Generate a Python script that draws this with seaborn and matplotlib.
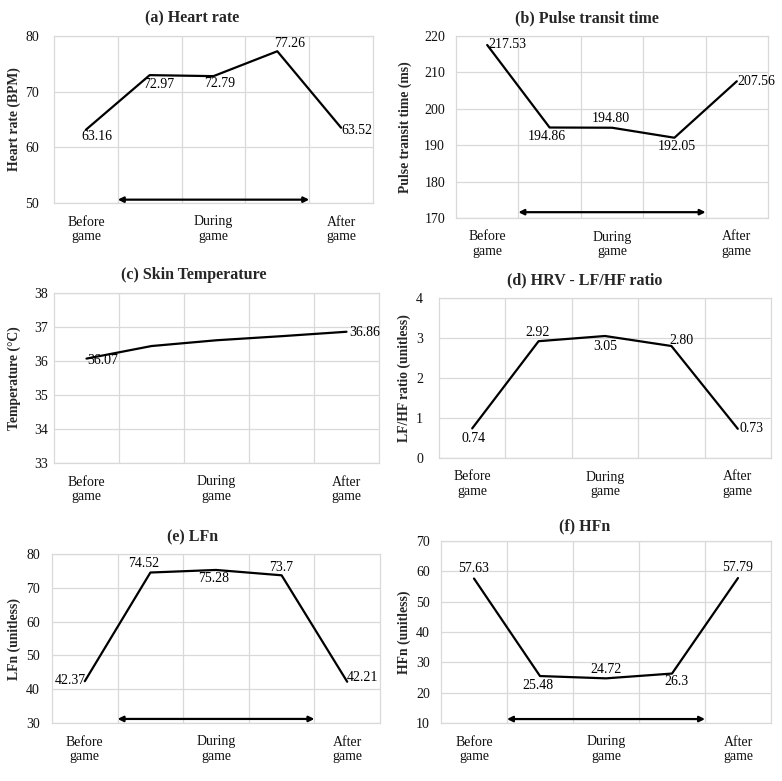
import numpy as np
import pandas as pd
import seaborn as sns
import matplotlib.pyplot as plt

# data
stages = ["Before\ngame", "During\ngame", "After\ngame"]
heart_rate = [63.16, 72.97, 72.79, 77.26, 63.52]
ptt = [217.53, 194.86, 194.80, 192.05, 207.56]
skin_temp = [36.07, 36.44, 36.61, 36.73, 36.86]
skin_temp_labels = ["36.07", None, None, None, "36.86"]
lf_hf = [0.74, 2.92, 3.05, 2.80, 0.73]
lfn = [42.37, 74.52, 75.28, 73.7, 42.21]
hfn = [57.63, 25.48, 24.72, 26.3, 57.79]

sns.set_theme(style="white")
plt.rcParams['font.family'] = ['Liberation Serif', 'DejaVu Serif']

fig = plt.figure(figsize=(7.82, 7.81), dpi=100)
W, H = 782, 781

def fmt(v):
    return f"{v:.2f}" if v not in (73.7, 26.3) else f"{v}"

panels = [
    # title, ylabel, values, labels, ylim, step, box(l,r,t,b), title pos, offsets(px), arrow, ytick pad px, ylabel x px
    ("(a) Heart rate", "Heart rate (BPM)", heart_rate, None, (50, 80), 10,
     (54, 373, 36, 203), (192, 18),
     [(11, -7), (9, -9), (6, -7), (12, 8), (16, -3)], 50.6, 15, 15),
    ("(b) Pulse transit time", "Pulse transit time (ms)", ptt, None, (170, 220), 10,
     (456, 768, 36, 218), (587, 18),
     [(20, 0), (-3, -9), (-1, 9), (2, -9), (20, 0)], 171.6, 11, 406),
    ("(c) Skin Temperature", "Temperature (°C)", skin_temp, skin_temp_labels, (33, 38), 1,
     (54, 379, 293, 463), (194, 275),
     [(16, -2), (0, 0), (0, 0), (0, 0), (18, -1)], None, 6, 15),
    ("(d) HRV - LF/HF ratio", "LF/HF ratio (unitless)", lf_hf, None, (0, 4), 1,
     (439, 771, 298, 458), (585, 280),
     [(1, -10), (-1, 9), (0, -10), (10, 6), (14, 0)], None, 16, 405),
    ("(e) LFn", "LFn (unitless)", lfn, None, (30, 80), 10,
     (52, 380, 554, 723), (193, 537),
     [(-14, 1), (-7, 9), (-2, -9), (0, 8), (15, 4)], 31.2, 12, 15),
    ("(f) HFn", "HFn (unitless)", hfn, None, (10, 70), 10,
     (441, 771, 541, 723), (585, 526),
     [(0, 10), (-2, -9), (0, 9), (4, -8), (0, 11)], 11.3, 11, 405),
]

for title, ylab, vals, labs, ylim, step, box, tpos, offs, arrow_y, ypad, ylx in panels:
    l, r, t, b = box
    ax = fig.add_axes([l / W, 1 - b / H, (r - l) / W, (b - t) / H])
    df = pd.DataFrame({"x": np.arange(len(vals)), "y": vals})
    sns.lineplot(data=df, x="x", y="y", ax=ax, color="black", linewidth=1.6)

    ax.set_xlim(-0.5, 4.5)
    ax.set_ylim(*ylim)
    ax.set_yticks(np.arange(ylim[0], ylim[1] + step / 2, step))
    ax.set_xticks([0, 2, 4])
    ax.set_xticklabels(stages, linespacing=1.12)
    ax.set_xticks([0.5, 1.5, 2.5, 3.5], minor=True)
    ax.grid(True, which="major", axis="y", color="#d9d9d9", linewidth=0.9)
    ax.grid(True, which="minor", axis="x", color="#d9d9d9", linewidth=0.9)
    ax.tick_params(axis="both", which="both", length=0, labelsize=10, labelcolor="#111111")
    ax.tick_params(axis="x", pad=9)
    ax.tick_params(axis="y", pad=ypad * 0.72)
    for s in ax.spines.values():
        s.set_color("#d9d9d9")
        s.set_linewidth(0.9)
    ax.set_xlabel("")
    ax.set_ylabel(ylab, fontsize=9.8, fontweight="bold")
    ax.yaxis.set_label_coords((ylx + 6 - l) / (r - l), 0.5)

    if labs is None:
        labs = [fmt(v) for v in vals]
    for i, (v, lab) in enumerate(zip(vals, labs)):
        if lab is None:
            continue
        dx, dy = offs[i]
        ax.annotate(lab, (i, v), xytext=(dx * 0.72, dy * 0.72), textcoords="offset points",
                    ha="center", va="center", fontsize=10, color="black")

    if arrow_y is not None:
        ax.annotate("", xy=(3.5, arrow_y), xytext=(0.5, arrow_y),
                    arrowprops=dict(arrowstyle="<|-|>", color="black", lw=1.6,
                                    mutation_scale=8, shrinkA=0, shrinkB=0))

    fig.text(tpos[0] / W, 1 - tpos[1] / H, title, ha="center", va="center",
             fontsize=11.5, fontweight="bold")

fig.savefig("out.png", dpi=100)
